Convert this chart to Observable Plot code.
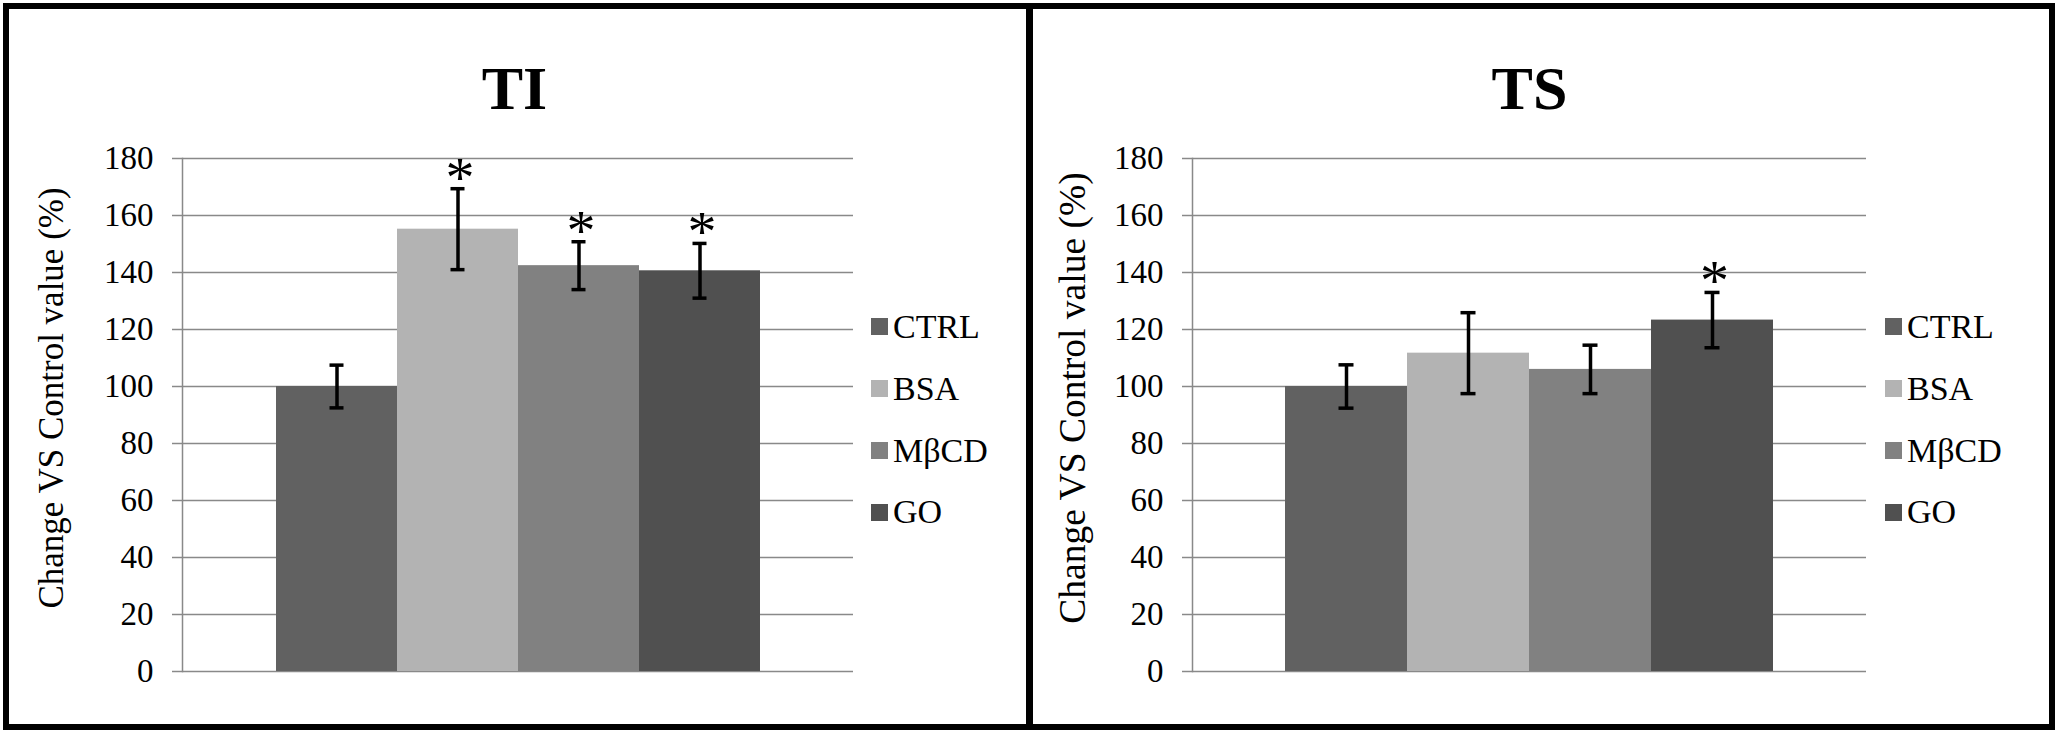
<!DOCTYPE html>
<html>
<head>
<meta charset="utf-8">
<script src="https://cdn.jsdelivr.net/npm/d3@7"></script>
<script src="https://cdn.jsdelivr.net/npm/@observablehq/plot@0.6"></script>
<style>
  html, body { margin: 0; padding: 0; background: #fff; }
  #root { position: relative; width: 2058px; height: 735px; overflow: hidden; background: #fff;
          font-family: "Liberation Serif", "Times New Roman", Tinos, serif; }
  #root svg, #root svg text { font-family: "Liberation Serif", "Times New Roman", Tinos, serif; }
  .panel { position: absolute; top: 0; }
  .frame { position: absolute; left: 3px; top: 3px; width: 2040px; height: 715px; border: 6px solid #000; }
  .divider { position: absolute; left: 1026px; top: 3px; width: 7px; height: 727px; background: #000; }
  .legend { position: absolute; top: 296px; font-size: 34px; color: #000; }
  .legend .row { display: flex; align-items: center; height: 61.8px; }
  .legend .sw { width: 17px; height: 17px; margin-right: 5px; flex: none; }
  .legend .lb { line-height: 61.8px; white-space: nowrap; }
</style>
</head>
<body>
<div id="root"></div>
<script>
// ---- data ----
const categories = ["CTRL", "BSA", "MβCD", "GO"];
const colors = ["#616161", "#b3b3b3", "#818181", "#505050"];
const yTicks = [0, 20, 40, 60, 80, 100, 120, 140, 160, 180];
const yLabel = "Change VS Control value (%)";

const tiTitle = "TI";
const tiValues = [100, 155.2, 142.4, 140.6];
const tiErrors = [7.5, 14.2, 8.4, 9.6];
const tiSignificant = [false, true, true, true];

const tsTitle = "TS";
const tsValues = [100, 111.7, 106.0, 123.3];
const tsErrors = [7.6, 14.2, 8.5, 9.7];
const tsSignificant = [false, false, false, true];

// ---- drawing ----
const root = document.getElementById("root");
const GRID = "#898989";
const FONT = '"Liberation Serif", "Times New Roman", Tinos, serif';

function makePanel({title, values, errors, significant, left, marginLeft, marginRight,
                    titleDx, labelDx, labelSize, legendLeft}) {
  const data = categories.map((c, i) => ({
    cat: c, value: values[i], lo: values[i] - errors[i], hi: values[i] + errors[i], sig: significant[i]
  }));
  const chart = Plot.plot({
    width: 1029,
    height: 735,
    marginLeft, marginRight,
    marginTop: 158,
    marginBottom: 64,
    style: {background: "transparent", fontFamily: FONT, overflow: "visible", color: "#000"},
    x: {domain: categories, paddingInner: 0, paddingOuter: 0.755, axis: null},
    y: {domain: [0, 180], axis: null},
    color: {domain: categories, range: colors},
    marks: [
      Plot.gridY(yTicks, {stroke: GRID, strokeOpacity: 1, strokeWidth: 1.5}),
      Plot.axisY(yTicks, {tickSize: 10, tickPadding: 19, stroke: GRID, strokeWidth: 1.5, fill: "#000",
                          fontSize: 33, label: null, tickFormat: d => String(d)}),
      Plot.frame({anchor: "left", stroke: GRID, strokeWidth: 1.5}),
      Plot.barY(data, {x: "cat", y: "value", fill: "cat"}),
      Plot.ruleX(data, {x: "cat", y1: "lo", y2: "hi", stroke: "#000", strokeWidth: 3.5}),
      Plot.tickY(data, {x: "cat", y: "hi", stroke: "#000", strokeWidth: 3.5, insetLeft: 53.5, insetRight: 53.5}),
      Plot.tickY(data, {x: "cat", y: "lo", stroke: "#000", strokeWidth: 3.5, insetLeft: 53.5, insetRight: 53.5}),
      Plot.text(data.filter(d => d.sig), {x: "cat", y: "hi", text: () => "*", lineAnchor: "bottom",
                                           dx: 2, dy: 8, fontSize: 58, fill: "#000"}),
      Plot.text([title], {frameAnchor: "top", dx: titleDx, dy: -50, lineAnchor: "bottom",
                          fontSize: 62, fontWeight: "bold", fill: "#000"}),
      Plot.text([yLabel], {frameAnchor: "left", textAnchor: "middle", rotate: -90, dx: labelDx, dy: -17,
                           fontSize: labelSize, fill: "#000"})
    ]
  });
  const wrap = document.createElement("div");
  wrap.className = "panel";
  wrap.style.left = left + "px";
  wrap.appendChild(chart);
  root.appendChild(wrap);

  const legend = document.createElement("div");
  legend.className = "legend";
  legend.style.left = legendLeft + "px";
  categories.forEach((c, i) => {
    const row = document.createElement("div");
    row.className = "row";
    const sw = document.createElement("div");
    sw.className = "sw";
    sw.style.background = colors[i];
    const lb = document.createElement("span");
    lb.className = "lb";
    lb.textContent = c;
    row.appendChild(sw);
    row.appendChild(lb);
    legend.appendChild(row);
  });
  root.appendChild(legend);
}

makePanel({title: tiTitle, values: tiValues, errors: tiErrors, significant: tiSignificant,
           left: 0, marginLeft: 182, marginRight: 176, titleDx: -3.5, labelDx: -131, labelSize: 35,
           legendLeft: 871});
makePanel({title: tsTitle, values: tsValues, errors: tsErrors, significant: tsSignificant,
           left: 1029, marginLeft: 163, marginRight: 192, titleDx: 0, labelDx: -120, labelSize: 37.5,
           legendLeft: 1885});

const frame = document.createElement("div");
frame.className = "frame";
root.appendChild(frame);
const divider = document.createElement("div");
divider.className = "divider";
root.appendChild(divider);
</script>
</body>
</html>
